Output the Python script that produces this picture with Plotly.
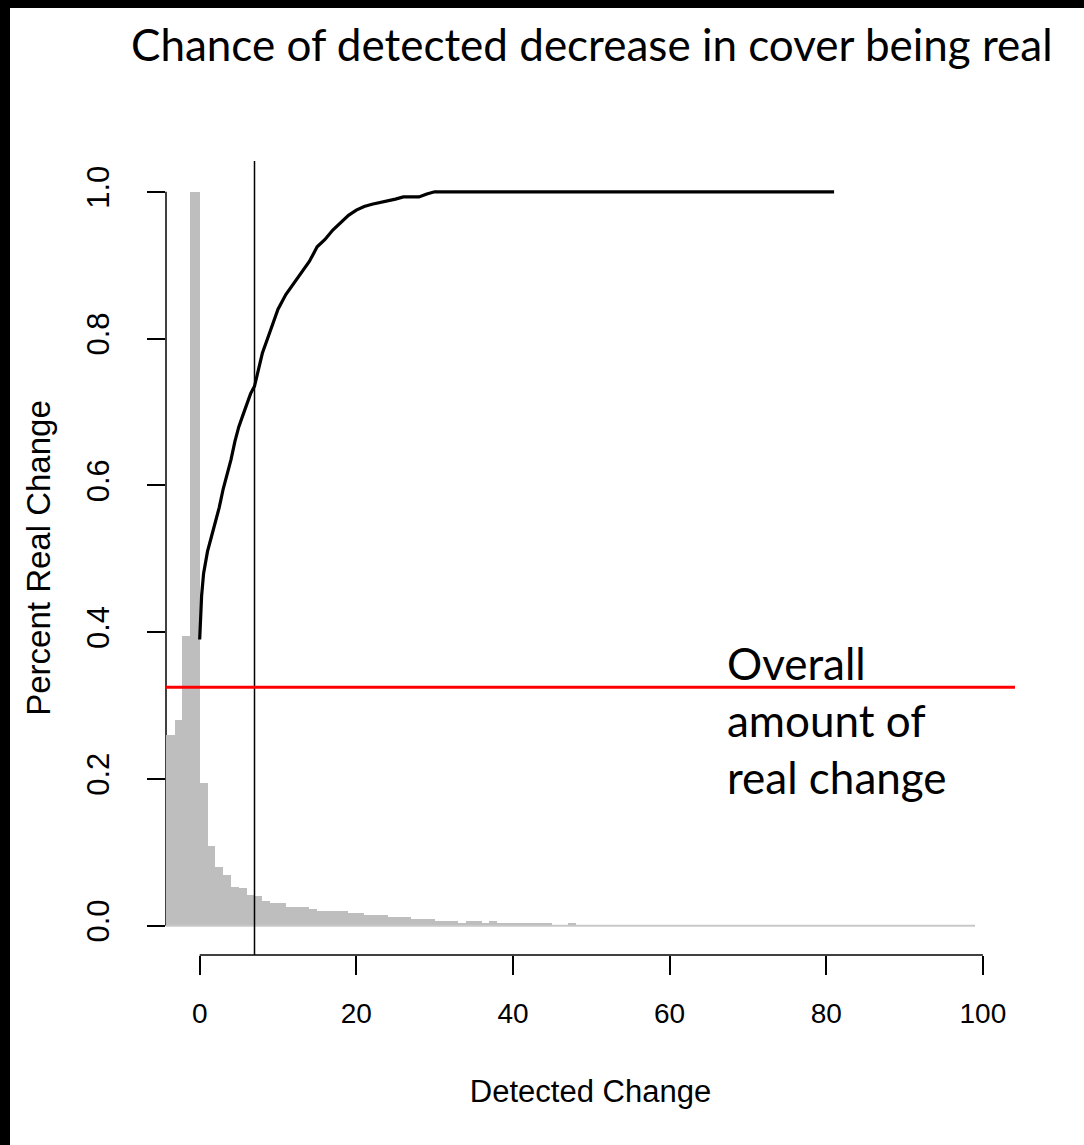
import plotly.graph_objects as go

# ---- data -------------------------------------------------------------
# histogram of detected change (bin edges and relative heights)
bin_edges = [-4.3, -3.15, -2.25, -1.2] + list(range(0, 100))
bin_heights = [
    0.26, 0.28, 0.395, 1.0,
    0.195, 0.108, 0.080, 0.069, 0.053, 0.051, 0.042, 0.040, 0.034, 0.031,
    0.031, 0.026, 0.026, 0.026, 0.023, 0.0205, 0.0205, 0.0205, 0.0205, 0.0178,
    0.0178, 0.015, 0.015, 0.015, 0.0123, 0.0123, 0.0123, 0.0095, 0.0095, 0.0095,
    0.0068, 0.0068, 0.0068, 0.004, 0.0068, 0.0068, 0.004, 0.0068,
    0.004, 0.004, 0.004, 0.004, 0.004, 0.004, 0.004,
    0.0, 0.0, 0.004,
    0.0, 0.0, 0.0, 0.0, 0.0, 0.0, 0.0, 0.0, 0.0, 0.0,
    0.0, 0.0, 0.0, 0.0, 0.0, 0.0, 0.0, 0.0, 0.0, 0.0,
    0.0, 0.0, 0.0, 0.0, 0.0, 0.0, 0.0, 0.0, 0.0, 0.0,
    0.0, 0.0, 0.0, 0.0, 0.0, 0.0, 0.0, 0.0, 0.0, 0.0,
    0.0, 0.0, 0.0, 0.0, 0.0, 0.0, 0.0, 0.0, 0.0, 0.0,
    0.0,
]

# share of detected change that is real, by detected change
curve_x = [0, 0.25, 0.5, 1, 1.5, 2, 2.5, 3, 3.5, 4, 4.5, 5, 5.5, 6, 6.5, 7,
           7.5, 8, 9, 10, 11, 12, 13, 14, 15, 16, 17, 18, 19, 20, 21, 22,
           23, 24, 25, 26, 27, 28, 29, 30, 81]
curve_y = [0.39, 0.45, 0.48, 0.51, 0.53, 0.55, 0.57, 0.595, 0.615, 0.635,
           0.66, 0.68, 0.695, 0.71, 0.725, 0.735, 0.76, 0.78, 0.81, 0.84,
           0.86, 0.875, 0.89, 0.905, 0.925, 0.935, 0.948, 0.958, 0.968,
           0.975, 0.98, 0.983, 0.985, 0.988, 0.99, 0.993, 0.993, 0.993,
           0.997, 1.0, 1.0]

threshold_x = 7          # vertical reference line
overall_real = 0.325     # overall amount of real change

x_ticks = [0, 20, 40, 60, 80, 100]
y_ticks = [0.0, 0.2, 0.4, 0.6, 0.8, 1.0]
y_tick_text = ["0.0", "0.2", "0.4", "0.6", "0.8", "1.0"]

title_text = "Chance of detected decrease in cover being real"
note_text = "Overall<br>amount of<br>real change"
x_title = "Detected Change"
y_title = "Percent Real Change"

# ---- figure geometry --------------------------------------------------
W, H = 1084, 1145
L, R, T, B = 166, 69, 161, 190
PW, PH = W - L - R, H - T - B


def px_x(px):
    return (px - L) / PW


def px_y(py):
    return (H - B - py) / PH


AXIS_FONT = "Liberation Sans, Arial, sans-serif"
NOTE_FONT = "Lato, Open Sans, sans-serif"
GREY = "#BEBEBE"

centers = [(a + b) / 2 for a, b in zip(bin_edges[:-1], bin_edges[1:])]
widths = [b - a for a, b in zip(bin_edges[:-1], bin_edges[1:])]

fig = go.Figure()

fig.add_trace(go.Bar(
    x=centers, y=bin_heights, width=widths,
    marker=dict(color=GREY, line=dict(width=0)),
    hoverinfo="skip", showlegend=False,
))

# thin baseline under the empty bins
fig.add_trace(go.Scatter(
    x=[bin_edges[0], bin_edges[-1]], y=[0, 0], mode="lines",
    line=dict(color="#C8C8C8", width=2), hoverinfo="skip", showlegend=False,
))

fig.add_trace(go.Scatter(
    x=curve_x, y=curve_y, mode="lines",
    line=dict(color="black", width=3.2), showlegend=False,
))

shapes = [
    # y axis line (drawn beneath the bars)
    dict(type="line", xref="paper", yref="y", x0=0, x1=0,
         y0=y_ticks[0], y1=y_ticks[-1], layer="below",
         line=dict(color="black", width=1.5)),
    # x axis line spanning the tick range
    dict(type="line", xref="x", yref="paper", x0=x_ticks[0], x1=x_ticks[-1],
         y0=0, y1=0, line=dict(color="black", width=1.5)),
    # reference lines
    dict(type="line", xref="x", yref="paper", x0=threshold_x, x1=threshold_x,
         y0=0, y1=1, line=dict(color="black", width=1.5)),
    dict(type="line", xref="paper", yref="y", x0=0, x1=1,
         y0=overall_real, y1=overall_real, line=dict(color="#FF0000", width=3)),
    # black frame at the top and left of the page
    dict(type="rect", xref="paper", yref="paper", x0=px_x(0), x1=px_x(10),
         y0=px_y(H), y1=px_y(0), fillcolor="black", line=dict(width=0)),
    dict(type="rect", xref="paper", yref="paper", x0=px_x(0), x1=px_x(W),
         y0=px_y(8), y1=px_y(0), fillcolor="black", line=dict(width=0)),
]

annotations = [
    dict(text=title_text, xref="paper", yref="paper", x=px_x(592), y=px_y(44),
         xanchor="center", yanchor="middle", showarrow=False,
         font=dict(family=NOTE_FONT, size=44, color="black")),
    dict(text=note_text, xref="paper", yref="paper", x=px_x(725), y=px_y(635),
         xanchor="left", yanchor="top", align="left", showarrow=False,
         font=dict(family=NOTE_FONT, size=44, color="black")),
]

fig.update_layout(
    width=W, height=H,
    margin=dict(l=L, r=R, t=T, b=B, pad=0),
    paper_bgcolor="white", plot_bgcolor="white",
    bargap=0, showlegend=False,
    shapes=shapes, annotations=annotations,
    xaxis=dict(
        range=[-4.3, 104.1], showgrid=False, zeroline=False, showline=False,
        tickmode="array", tickvals=x_ticks, ticks="outside", ticklen=19,
        tickwidth=1.5, tickcolor="black", ticklabelstandoff=14,
        tickfont=dict(family=AXIS_FONT, size=28, color="black"),
        title=dict(text=x_title, standoff=52,
                   font=dict(family=AXIS_FONT, size=31, color="black")),
    ),
    yaxis=dict(
        range=[-0.04, 1.042], showgrid=False, zeroline=False, showline=False,
        tickmode="array", tickvals=y_ticks, ticktext=y_tick_text,
        tickangle=-90, ticks="outside", ticklen=18, tickwidth=1.5,
        tickcolor="black", ticklabelstandoff=26,
        tickfont=dict(family=AXIS_FONT, size=31, color="black"),
        title=dict(text=y_title, standoff=20,
                   font=dict(family=AXIS_FONT, size=33, color="black")),
    ),
)

fig.write_html("out.html")
